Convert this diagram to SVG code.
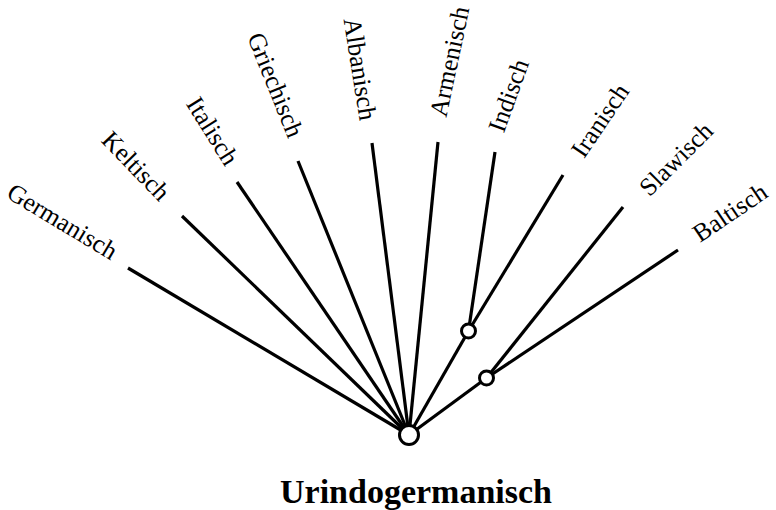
<svg xmlns="http://www.w3.org/2000/svg" width="776" height="510" viewBox="0 0 776 510">
<style>
.e{stroke:#000;stroke-width:3.2;fill:none;stroke-linecap:butt}
.n{fill:#fff;stroke:#000;stroke-width:3}
.l{font-family:"Liberation Serif","Times New Roman",serif;font-size:25.5px;fill:#000;text-anchor:middle}
.t{font-family:"Liberation Serif","Times New Roman",serif;font-size:34px;font-weight:bold;fill:#000;text-anchor:middle}
</style>
<rect width="776" height="510" fill="#fff"/>
<g id="edges">
<line class="e" x1="409" y1="435" x2="128" y2="268"/>
<line class="e" x1="409" y1="435" x2="182" y2="216"/>
<line class="e" x1="409" y1="435" x2="237" y2="182"/>
<line class="e" x1="409" y1="435" x2="298" y2="161"/>
<line class="e" x1="409" y1="435" x2="372" y2="143"/>
<line class="e" x1="409" y1="435" x2="438" y2="142"/>
<line class="e" x1="409" y1="435" x2="468.5" y2="331"/>
<line class="e" x1="409" y1="435" x2="486.5" y2="378"/>
<line class="e" x1="468.5" y1="331" x2="495" y2="152"/>
<line class="e" x1="468.5" y1="331" x2="563" y2="175"/>
<line class="e" x1="486.5" y1="378" x2="623" y2="207"/>
<line class="e" x1="486.5" y1="378" x2="678" y2="250"/>
</g>
<g id="root"><circle class="n" cx="409" cy="435" r="9.5"/><text class="t" x="416" y="503">Urindogermanisch</text></g>
<g id="indoiranisch"><circle class="n" cx="468.5" cy="331" r="7"/></g>
<g id="baltoslawisch"><circle class="n" cx="486.5" cy="378" r="7"/></g>
<g id="germanisch"><text class="l" transform="translate(62.5,221.5) rotate(31)" y="8.5">Germanisch</text></g>
<g id="keltisch"><text class="l" transform="translate(136,166) rotate(46)" y="8.5">Keltisch</text></g>
<g id="italisch"><text class="l" transform="translate(212.5,131) rotate(58)" y="8.5">Italisch</text></g>
<g id="griechisch"><text class="l" transform="translate(275.5,85) rotate(68)" y="8.5">Griechisch</text></g>
<g id="albanisch"><text class="l" transform="translate(360,69) rotate(81)" y="8.5">Albanisch</text></g>
<g id="armenisch"><text class="l" transform="translate(449.5,61.5) rotate(-78)" y="8.5">Armenisch</text></g>
<g id="indisch"><text class="l" transform="translate(508.5,95.5) rotate(-70)" y="8.5">Indisch</text></g>
<g id="iranisch"><text class="l" transform="translate(600,120.5) rotate(-56)" y="8.5">Iranisch</text></g>
<g id="slawisch"><text class="l" transform="translate(676,159) rotate(-45)" y="8.5">Slawisch</text></g>
<g id="baltisch"><text class="l" transform="translate(730,212.5) rotate(-34)" y="8.5">Baltisch</text></g>
</svg>
